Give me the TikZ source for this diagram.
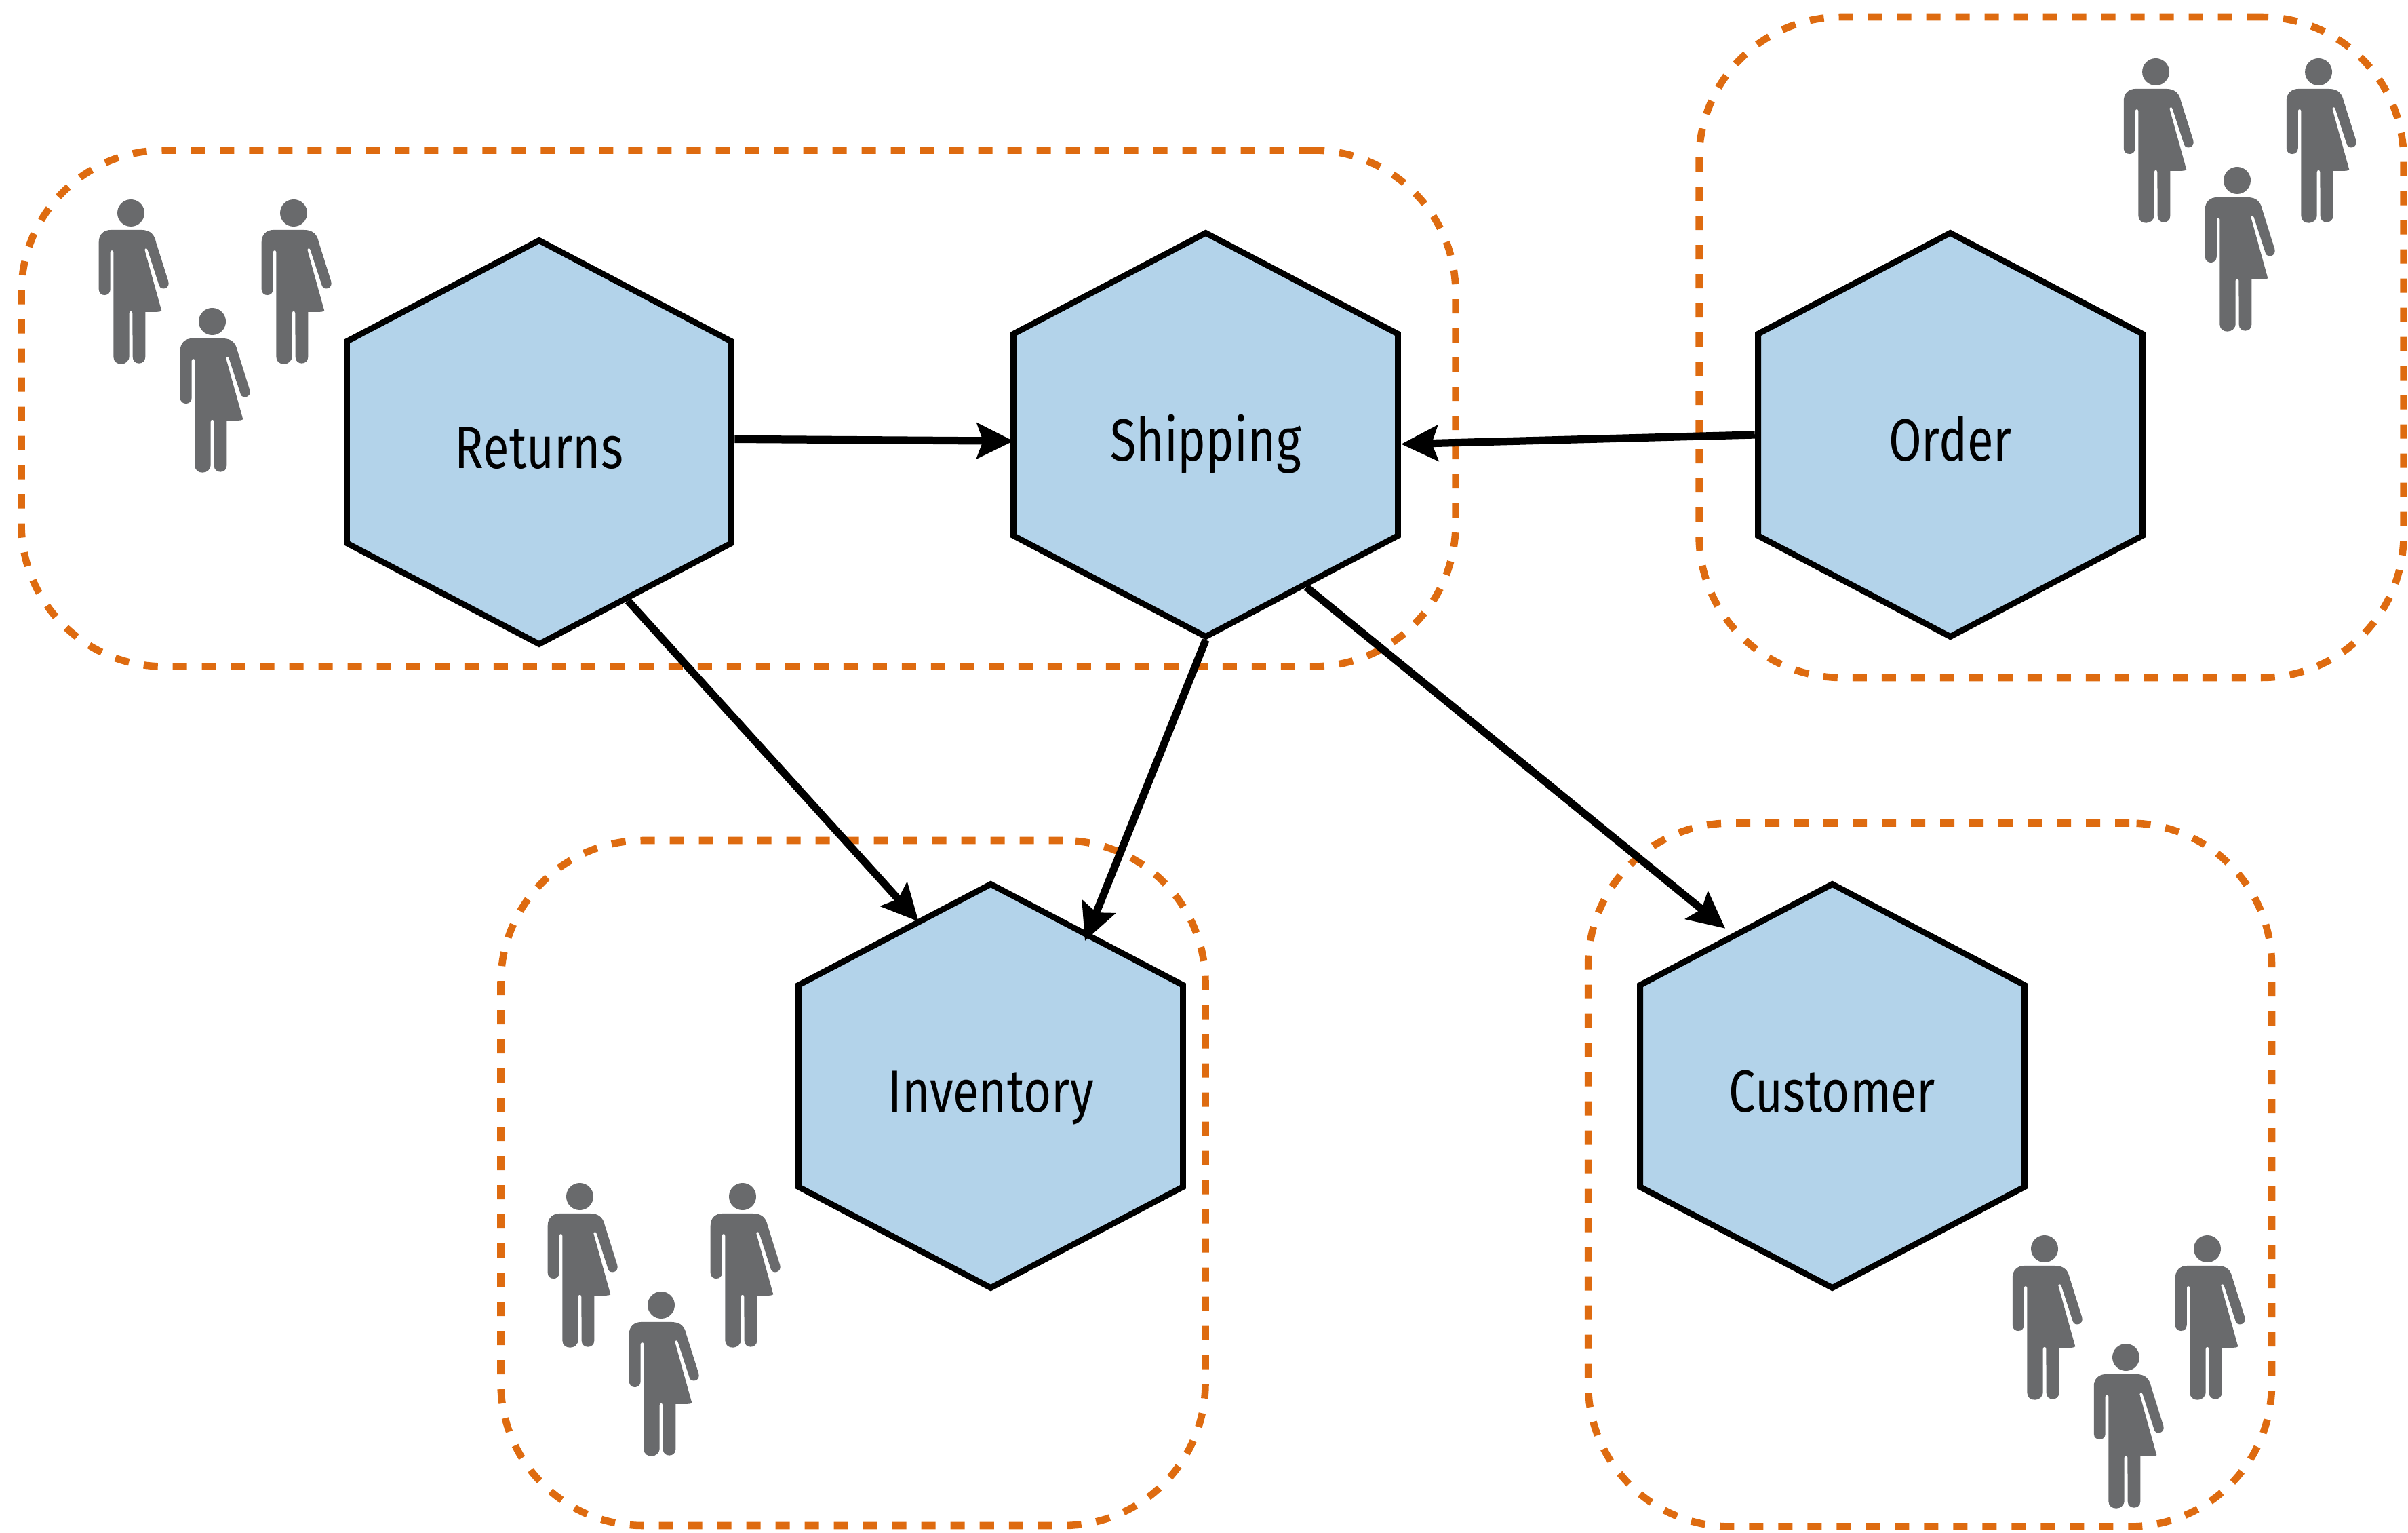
\documentclass[tikz,border=0pt]{standalone}
\usepackage{xcolor}
\usepackage{fontspec}
\usepackage{tikz}
\usetikzlibrary{arrows.meta,shapes.geometric}
\newfontfamily\hexFont[FakeStretch=0.73]{Fira Sans}
\definecolor{hexBlue}{HTML}{B3D3EA}
\definecolor{teamOrange}{HTML}{DE6B10}
\definecolor{staffGrey}{HTML}{696A6C}
\tikzset{
  hexBox/.style={
    regular polygon,
    regular polygon sides=6,
    shape border rotate=30,
    draw=black,
    fill=hexBlue,
    line width=2.5pt,
    minimum size=5.95cm,
    xscale=1.1,
    transform shape,
    text height=0.77cm,
    text depth=0cm,
    font=\hexFont\fontsize{25}{30}\selectfont
  },
  teamBoundary/.style={
    rectangle,
    rounded corners=2.1cm,
    draw=teamOrange,
    line width=3pt,
    dash pattern=on 0.21cm off 0.22cm
  },
  arrowLine/.style={
    -{Stealth[length=5.4mm,width=5.2mm,inset=0.9mm]},
    line width=3.2pt,
    black
  },
  staffMember/.pic={
    \fill[staffGrey] (0,0) circle (0.2cm);
    \fill[staffGrey, x=0.0333mm, y=0.0333mm]
      (-89,-75) -- (46,-75)
      .. controls (90,-75) and (105,-100) .. (111,-128)
      -- (166,-303)
      .. controls (175,-335) and (135,-345) .. (126,-323)
      -- (74,-163)
      .. controls (72,-155) and (62,-155) .. (61,-163)
      -- (136,-433)
      .. controls (132,-440) and (100,-438) .. (64,-438)
      -- (64,-638)
      .. controls (64,-675) and (8,-675) .. (8,-638)
      -- (7,-443)
      .. controls (6,-432) and (-6,-432) .. (-7,-443)
      -- (-7,-633)
      .. controls (-7,-680) and (-77,-680) .. (-77,-638)
      -- (-77,-173)
      .. controls (-78,-163) and (-90,-163) .. (-91,-173)
      -- (-91,-338)
      .. controls (-91,-372) and (-142,-372) .. (-142,-338)
      -- (-142,-128)
      .. controls (-142,-95) and (-120,-75) .. (-89,-75) -- cycle;
  },
  staffGroup/.pic={
    \pic (a) at (0,0) {staffMember};
    \pic (b) at (2.40,0) {staffMember};
    \pic (c) at (1.20,-1.60) {staffMember};
  }
}
\begin{document}
\begin{tikzpicture}
    \useasboundingbox (0,0) rectangle (35.51,22.59);

    \node[teamBoundary, minimum width=21.15cm, minimum height=7.61cm] (returnsTeam) at (10.89,16.57) {};
    \node[teamBoundary, minimum width=10.39cm, minimum height=9.74cm] (orderTeam) at (30.25,17.47) {};
    \node[teamBoundary, minimum width=10.39cm, minimum height=10.10cm] (inventoryTeam) at (12.58,5.15) {};
    \node[teamBoundary, minimum width=10.08cm, minimum height=10.37cm] (customerTeam) at (28.46,5.27) {};

    \node[hexBox] (returns) at (7.95,16.07) {Returns};
    \node[hexBox] (shipping) at (17.78,16.18) {Shipping};
    \node[hexBox] (order) at (28.76,16.18) {Order};
    \node[hexBox] (inventory) at (14.61,6.58) {Inventory};
    \node[hexBox] (customer) at (27.02,6.58) {Customer};

    \pic (returnsStaff) at (1.93,19.45) {staffGroup};
    \pic (orderStaff) at (31.79,21.53) {staffGroup};
    \pic (inventoryStaff) at (8.55,4.95) {staffGroup};
    \pic (customerStaff) at (30.15,4.18) {staffGroup};

    \draw[arrowLine, shorten >=-0.05cm] (returns.1.4) -- (shipping.182.5);
    \draw[arrowLine] (order.180) -- (shipping.-3.2);
    \draw[arrowLine, shorten >=-0.04cm] (returns.-63.3) -- (inventory.112);
    \draw[arrowLine, shorten >=-0.14cm] (shipping.-90) -- (inventory.60);
    \draw[arrowLine, shorten >=0.12cm] (shipping.-59.2) -- (customer.121.8);
\end{tikzpicture}
\end{document}
